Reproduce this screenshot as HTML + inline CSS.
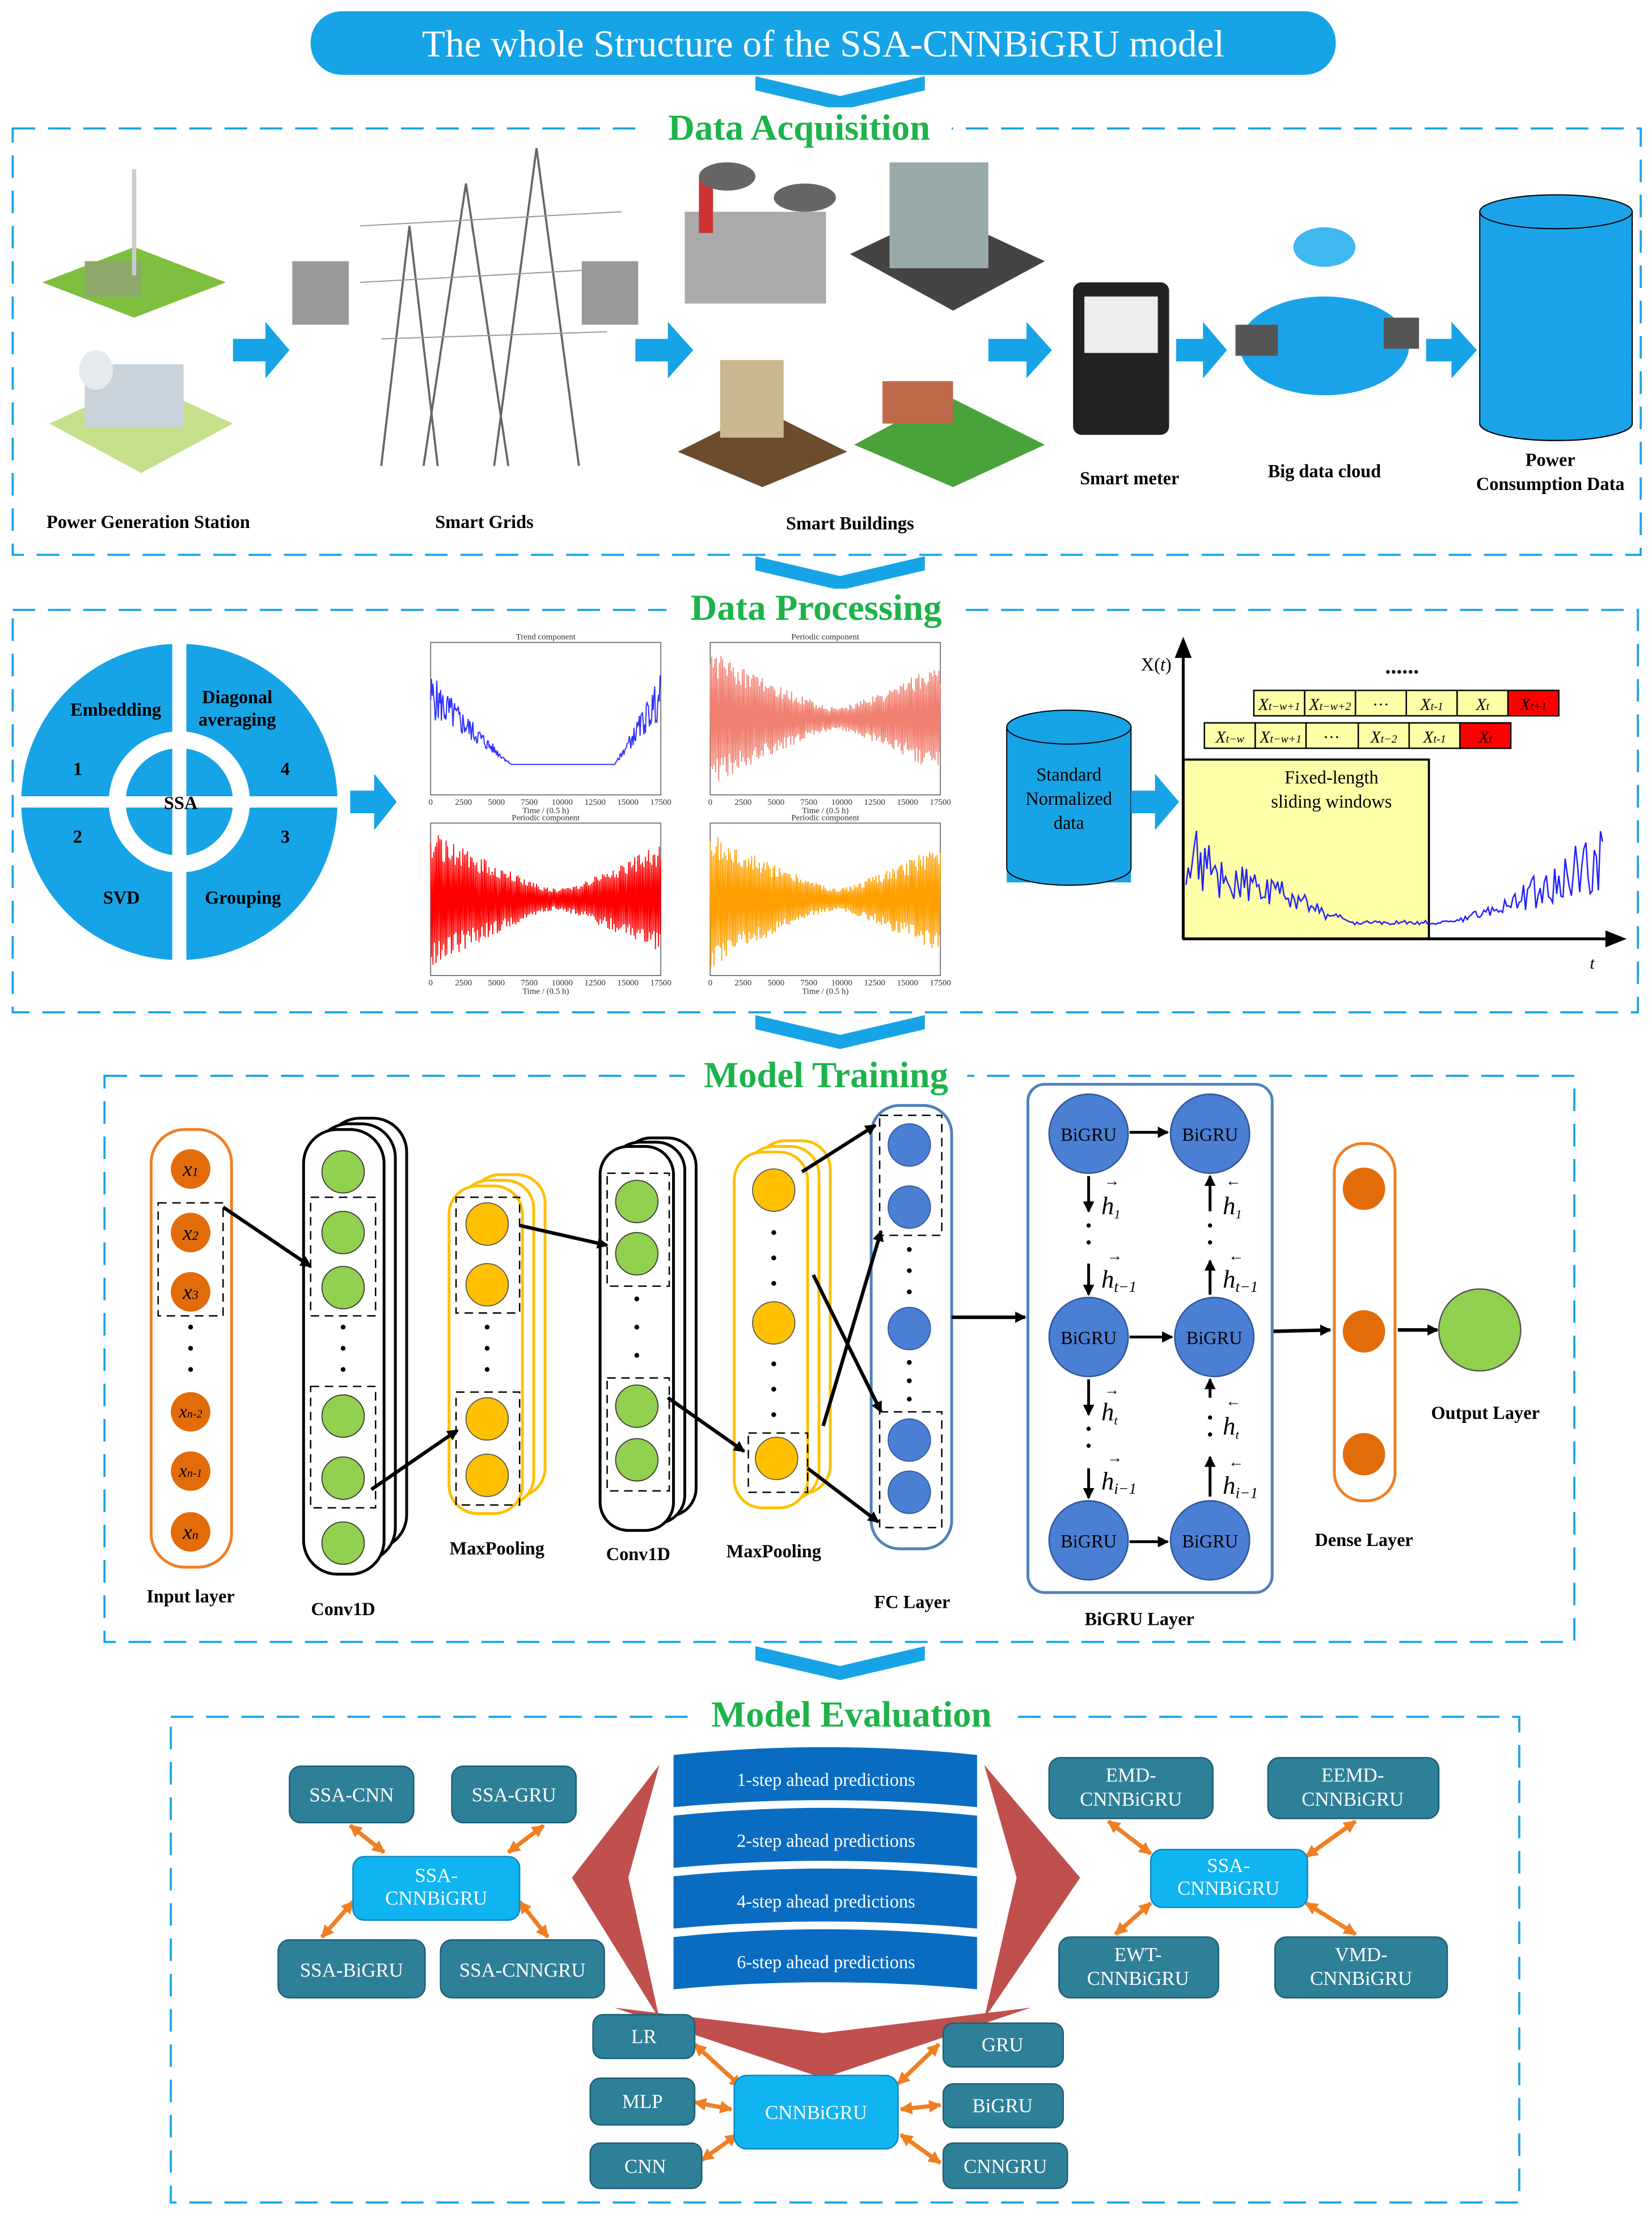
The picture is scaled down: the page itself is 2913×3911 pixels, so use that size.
<!DOCTYPE html>
<html><head><meta charset="utf-8">
<style>
html,body{margin:0;padding:0;background:#fff;}
svg{display:block;}
text{font-family:"Liberation Serif",serif;}
</style></head>
<body>
<svg id="s" xmlns="http://www.w3.org/2000/svg" width="2913" height="3911" viewBox="0 0 1170 1571" preserveAspectRatio="none">
<defs>
<marker id="ab" markerWidth="8" markerHeight="8" refX="7" refY="4" orient="auto" markerUnits="userSpaceOnUse"><path d="M0,0 L8,4 L0,8z" fill="#000"/></marker>
<marker id="ao" markerWidth="9" markerHeight="9" refX="8" refY="4.5" orient="auto-start-reverse" markerUnits="userSpaceOnUse"><path d="M0,0 L9,4.5 L0,9z" fill="#f07f23"/></marker>
</defs>
<rect width="1170" height="1571" fill="#fff"/>
<!-- title -->
<rect x="220" y="8" width="726" height="45" rx="22" fill="#16a4e6"/>
<text x="583" y="40" font-size="27" fill="#fff" text-anchor="middle">The whole Structure of the SSA-CNNBiGRU model</text>
<g id="chev"><path d="M535,54 L595,68 L655,54 L655,64 L595,78 L535,64z" fill="#16a4e6"/></g>
<!-- Data acquisition -->
<rect x="9" y="91" width="1153" height="302" fill="none" stroke="#1aa3e8" stroke-width="1.5" stroke-dasharray="16,9"/>
<rect x="458" y="76" width="216" height="30" fill="#fff"/>
<text x="566" y="99" font-size="26" font-weight="bold" fill="#1db34a" text-anchor="middle">Data Acquisition</text>
<!-- icons rough -->
<g>
<path d="M30,200 L95,175 L160,200 L95,225z" fill="#7fbf3f"/><rect x="60" y="185" width="40" height="25" fill="#8ca86a"/>
<line x1="95" y1="120" x2="95" y2="195" stroke="#ccc" stroke-width="3"/>
<path d="M35,300 L100,270 L165,300 L100,335z" fill="#c5e08a"/><rect x="60" y="258" width="70" height="45" fill="#c9d3dc"/>
<ellipse cx="68" cy="262" rx="12" ry="14" fill="#e6eaee"/>
<rect x="207" y="185" width="40" height="45" fill="#999"/><rect x="412" y="185" width="40" height="45" fill="#999"/>
<path d="M300,330 L330,130 L360,330 M350,330 L380,105 L410,330 M270,330 L290,160 L310,330" fill="none" stroke="#666" stroke-width="1.5"/>
<path d="M255,160 L440,150 M255,200 L440,190 M270,240 L430,235" stroke="#999" stroke-width="0.8" fill="none"/>
<rect x="485" y="150" width="100" height="65" fill="#aaa"/><rect x="495" y="125" width="10" height="40" fill="#c33"/><ellipse cx="515" cy="125" rx="20" ry="10" fill="#666"/><ellipse cx="570" cy="140" rx="22" ry="10" fill="#666"/>
<path d="M602,180 L665,150 L740,185 L675,220z" fill="#444"/><rect x="630" y="115" width="70" height="75" fill="#9aa"/>
<path d="M480,320 L540,290 L600,320 L540,345z" fill="#6b4d2d"/><rect x="510" y="255" width="45" height="55" fill="#cbb890"/>
<path d="M605,315 L670,280 L740,315 L675,345z" fill="#4aa33a"/><rect x="625" y="270" width="50" height="30" fill="#c0684a"/>
<rect x="760" y="200" width="68" height="108" rx="6" fill="#222"/><rect x="768" y="210" width="52" height="40" fill="#eee"/>
<ellipse cx="938" cy="245" rx="60" ry="35" fill="#1aa3e8"/><ellipse cx="938" cy="175" rx="22" ry="14" fill="#3fb8f0"/>
<rect x="875" y="230" width="30" height="22" fill="#555"/><rect x="980" y="225" width="25" height="22" fill="#555"/>
<rect x="1048" y="150" width="108" height="150" fill="#1aa3e8"/>
<ellipse cx="1102" cy="300" rx="54" ry="12" fill="#1aa3e8" stroke="#000" stroke-width="0.8"/>
<rect x="1048" y="150" width="108" height="150" fill="#1aa3e8"/>
<path d="M1048,150 L1048,300 M1156,150 L1156,300" stroke="#000" stroke-width="0.8"/>
<path d="M1048,300 A54,12 0 0 0 1156,300" fill="none" stroke="#000" stroke-width="0.8"/>
<ellipse cx="1102" cy="150" rx="54" ry="12" fill="#1aa3e8" stroke="#000" stroke-width="0.8"/>
</g>
<g fill="#16a4e6" id="arrs">
<path d="M165,240 L188,240 L188,228 L205,248 L188,268 L188,256 L165,256z"/>
<path d="M450,240 L473,240 L473,228 L491,248 L473,268 L473,256 L450,256z"/>
<path d="M700,240 L727,240 L727,228 L745,248 L727,268 L727,256 L700,256z"/>
<path d="M833,240 L852,240 L852,228 L869,248 L852,268 L852,256 L833,256z"/>
<path d="M1010,240 L1028,240 L1028,228 L1046,248 L1028,268 L1028,256 L1010,256z"/>
</g>
<g font-size="13" font-weight="bold" text-anchor="middle">
<text x="105" y="374">Power Generation Station</text>
<text x="343" y="374">Smart Grids</text>
<text x="602" y="375">Smart Buildings</text>
<text x="800" y="343">Smart meter</text>
<text x="938" y="338">Big data cloud</text>
<text x="1098" y="330">Power</text>
<text x="1098" y="347">Consumption Data</text>
</g>
<use href="#chev" y="340"/>
<!-- Data processing -->
<rect x="9" y="432" width="1151" height="285" fill="none" stroke="#1aa3e8" stroke-width="1.5" stroke-dasharray="16,9"/>
<rect x="472" y="417" width="210" height="30" fill="#fff"/>
<text x="578" y="439" font-size="26" font-weight="bold" fill="#1db34a" text-anchor="middle">Data Processing</text>
<circle cx="127" cy="568" r="112" fill="#16a4e6"/>
<circle cx="127" cy="568" r="50" fill="#fff"/>
<circle cx="127" cy="568" r="38" fill="#16a4e6"/>
<rect x="122" y="450" width="10" height="236" fill="#fff"/>
<rect x="12" y="564" width="230" height="8" fill="#fff"/>
<g font-size="13" font-weight="bold" text-anchor="middle">
<text x="82" y="507">Embedding</text><text x="168" y="498">Diagonal</text><text x="168" y="514">averaging</text>
<text x="55" y="549">1</text><text x="202" y="549">4</text><text x="55" y="597">2</text><text x="202" y="597">3</text>
<text x="128" y="573">SSA</text><text x="86" y="640">SVD</text><text x="172" y="640">Grouping</text>
</g>
<path d="M248,560 L265,560 L265,548 L281,568 L265,588 L265,576 L248,576z" fill="#16a4e6"/>
<g id="plots" font-size="6" fill="#333"></g>
<!-- cylinder -->
<rect x="713" y="515" width="88" height="110" fill="#16a4e6"/>
<path d="M713,515 L713,615 A44,12 0 0 0 801,615 L801,515" fill="#16a4e6" stroke="#000" stroke-width="0.8"/>
<ellipse cx="757" cy="515" rx="44" ry="12" fill="#16a4e6" stroke="#000" stroke-width="0.8"/>
<g font-size="13" text-anchor="middle"><text x="757" y="553">Standard</text><text x="757" y="570">Normalized</text><text x="757" y="587">data</text></g>
<path d="M801,560 L818,560 L818,548 L835,568 L818,588 L818,576 L801,576z" fill="#16a4e6"/>
<rect x="838" y="538" width="174" height="127" fill="#ffffa8" stroke="#000" stroke-width="1.5"/>
<line x1="838" y1="665" x2="838" y2="462" stroke="#000" stroke-width="2"/>
<path d="M832,466 L838,451 L844,466z"/>
<line x1="838" y1="665" x2="1140" y2="665" stroke="#000" stroke-width="2"/>
<path d="M1137,659 L1152,665 L1137,671z"/>
<text x="808" y="475" font-size="13">X(<tspan font-style="italic">t</tspan>)</text>
<text x="1126" y="686" font-size="12" font-style="italic">t</text>
<text x="993" y="477" font-size="16" font-weight="bold" text-anchor="middle">......</text>
<g font-size="12" font-family="Liberation Serif" font-style="italic" text-anchor="middle" stroke="#000" stroke-width="1">
<rect x="888" y="489" width="36" height="18" fill="#ffffa8"/><rect x="924" y="489" width="36" height="18" fill="#ffffa8"/><rect x="960" y="489" width="36" height="18" fill="#ffffa8"/><rect x="996" y="489" width="36" height="18" fill="#ffffa8"/><rect x="1032" y="489" width="36" height="18" fill="#ffffa8"/><rect x="1068" y="489" width="36" height="18" fill="#f00"/>
<rect x="853" y="512" width="36" height="18" fill="#ffffa8"/><rect x="889" y="512" width="36" height="18" fill="#ffffa8"/><rect x="925" y="512" width="37" height="18" fill="#ffffa8"/><rect x="962" y="512" width="36" height="18" fill="#ffffa8"/><rect x="998" y="512" width="36" height="18" fill="#ffffa8"/><rect x="1034" y="512" width="36" height="18" fill="#f00"/>
</g>
<g font-size="12" font-style="italic" text-anchor="middle">
<text x="906" y="503">X<tspan font-size="8">t−w+1</tspan></text><text x="942" y="503">X<tspan font-size="8">t−w+2</tspan></text><text x="978" y="503" font-style="normal">···</text><text x="1014" y="503">X<tspan font-size="8">t-1</tspan></text><text x="1050" y="503">X<tspan font-size="8">t</tspan></text><text x="1086" y="503">X<tspan font-size="8">t+1</tspan></text>
<text x="871" y="526">X<tspan font-size="8">t−w</tspan></text><text x="907" y="526">X<tspan font-size="8">t−w+1</tspan></text><text x="943" y="526" font-style="normal">···</text><text x="980" y="526">X<tspan font-size="8">t−2</tspan></text><text x="1016" y="526">X<tspan font-size="8">t-1</tspan></text><text x="1052" y="526">X<tspan font-size="8">t</tspan></text>
</g>
<g font-size="13" text-anchor="middle"><text x="943" y="555">Fixed-length</text><text x="943" y="572">sliding windows</text></g>
<polyline id="bigsig" fill="none" stroke="#2020ff" stroke-width="1"/>
<use href="#chev" y="665"/>
<!-- Model training -->
<rect x="74" y="762" width="1041" height="401" fill="none" stroke="#1aa3e8" stroke-width="1.5" stroke-dasharray="16,9"/>
<rect x="485" y="747" width="200" height="30" fill="#fff"/>
<text x="585" y="770" font-size="26" font-weight="bold" fill="#1db34a" text-anchor="middle">Model Training</text>
<rect x="107" y="800" width="57" height="310" rx="24" fill="#fff" stroke="#f07f23" stroke-width="2"/>
<g fill="#e36c0a"><circle cx="135" cy="828" r="14"/><circle cx="135" cy="873" r="14"/><circle cx="135" cy="915" r="14"/><circle cx="135" cy="1000" r="14"/><circle cx="135" cy="1042" r="14"/><circle cx="135" cy="1085" r="14"/></g>
<g font-size="15" font-style="italic" text-anchor="middle"><text x="135" y="833">x<tspan font-size="9">1</tspan></text><text x="135" y="878">x<tspan font-size="9">2</tspan></text><text x="135" y="920">x<tspan font-size="9">3</tspan></text><text x="135" y="1004" font-size="13">x<tspan font-size="8">n-2</tspan></text><text x="135" y="1046" font-size="13">x<tspan font-size="8">n-1</tspan></text><text x="135" y="1090">x<tspan font-size="9">n</tspan></text></g>
<rect x="112" y="852" width="46" height="80" fill="none" stroke="#000" stroke-dasharray="6,4"/>
<!-- conv1 -->
<rect x="231" y="792" width="57" height="305" rx="24" fill="#fff" stroke="#000" stroke-width="2"/>
<rect x="223" y="796" width="57" height="310" rx="24" fill="#fff" stroke="#000" stroke-width="2"/>
<rect x="215" y="800" width="57" height="315" rx="24" fill="#fff" stroke="#000" stroke-width="2"/>
<g fill="#92d050" stroke="#333" stroke-width="0.7"><circle cx="243" cy="830" r="15"/><circle cx="243" cy="873" r="15"/><circle cx="243" cy="912" r="15"/><circle cx="243" cy="1003" r="15"/><circle cx="243" cy="1047" r="15"/><circle cx="243" cy="1093" r="15"/></g>
<rect x="220" y="848" width="46" height="84" fill="none" stroke="#000" stroke-dasharray="6,4"/>
<rect x="220" y="982" width="46" height="86" fill="none" stroke="#000" stroke-dasharray="6,4"/>
<!-- maxpool1 -->
<rect x="334" y="832" width="52" height="228" rx="20" fill="#fff" stroke="#ffc000" stroke-width="2"/>
<rect x="326" y="836" width="52" height="230" rx="20" fill="#fff" stroke="#ffc000" stroke-width="2"/>
<rect x="318" y="840" width="52" height="232" rx="20" fill="#fff" stroke="#ffc000" stroke-width="2"/>
<g fill="#ffc000" stroke="#555" stroke-width="0.7"><circle cx="345" cy="867" r="15"/><circle cx="345" cy="910" r="15"/><circle cx="345" cy="1005" r="15"/><circle cx="345" cy="1045" r="15"/></g>
<rect x="323" y="848" width="45" height="82" fill="none" stroke="#000" stroke-dasharray="6,4"/>
<rect x="323" y="986" width="45" height="80" fill="none" stroke="#000" stroke-dasharray="6,4"/>
<!-- conv2 -->
<rect x="441" y="806" width="52" height="268" rx="20" fill="#fff" stroke="#000" stroke-width="2"/>
<rect x="433" y="809" width="52" height="270" rx="20" fill="#fff" stroke="#000" stroke-width="2"/>
<rect x="425" y="812" width="52" height="272" rx="20" fill="#fff" stroke="#000" stroke-width="2"/>
<g fill="#92d050" stroke="#333" stroke-width="0.7"><circle cx="451" cy="851" r="15"/><circle cx="451" cy="888" r="15"/><circle cx="451" cy="996" r="15"/><circle cx="451" cy="1034" r="15"/></g>
<rect x="430" y="831" width="44" height="80" fill="none" stroke="#000" stroke-dasharray="6,4"/>
<rect x="430" y="976" width="44" height="80" fill="none" stroke="#000" stroke-dasharray="6,4"/>
<!-- maxpool2 -->
<rect x="536" y="808" width="52" height="250" rx="20" fill="#fff" stroke="#ffc000" stroke-width="2"/>
<rect x="528" y="812" width="52" height="250" rx="20" fill="#fff" stroke="#ffc000" stroke-width="2"/>
<rect x="520" y="816" width="52" height="252" rx="20" fill="#fff" stroke="#ffc000" stroke-width="2"/>
<g fill="#ffc000" stroke="#555" stroke-width="0.7"><circle cx="548" cy="843" r="15"/><circle cx="548" cy="937" r="15"/><circle cx="550" cy="1033" r="15"/></g>
<rect x="530" y="1015" width="42" height="42" fill="none" stroke="#000" stroke-dasharray="6,4"/>
<!-- FC -->
<rect x="617" y="783" width="57" height="314" rx="20" fill="#fff" stroke="#4f81bd" stroke-width="2"/>
<g fill="#4a7fd4" stroke="#2f5597" stroke-width="0.7"><circle cx="644" cy="811" r="15"/><circle cx="644" cy="855" r="15"/><circle cx="644" cy="941" r="15"/><circle cx="644" cy="1020" r="15"/><circle cx="644" cy="1057" r="15"/></g>
<rect x="623" y="790" width="44" height="85" fill="none" stroke="#000" stroke-dasharray="6,4"/>
<rect x="623" y="1000" width="44" height="82" fill="none" stroke="#000" stroke-dasharray="6,4"/>
<!-- dots -->
<g fill="#000">
<circle cx="135" cy="940" r="1.7"/><circle cx="135" cy="955" r="1.7"/><circle cx="135" cy="970" r="1.7"/>
<circle cx="243" cy="940" r="1.7"/><circle cx="243" cy="955" r="1.7"/><circle cx="243" cy="970" r="1.7"/>
<circle cx="345" cy="940" r="1.7"/><circle cx="345" cy="955" r="1.7"/><circle cx="345" cy="970" r="1.7"/>
<circle cx="451" cy="920" r="1.7"/><circle cx="451" cy="940" r="1.7"/><circle cx="451" cy="960" r="1.7"/>
<circle cx="548" cy="873" r="1.7"/><circle cx="548" cy="891" r="1.7"/><circle cx="548" cy="909" r="1.7"/>
<circle cx="548" cy="966" r="1.7"/><circle cx="548" cy="984" r="1.7"/><circle cx="548" cy="1002" r="1.7"/>
<circle cx="644" cy="885" r="1.7"/><circle cx="644" cy="900" r="1.7"/><circle cx="644" cy="915" r="1.7"/>
<circle cx="644" cy="965" r="1.7"/><circle cx="644" cy="978" r="1.7"/><circle cx="644" cy="991" r="1.7"/>
<circle cx="966" cy="880" r="1.7"/><circle cx="966" cy="895" r="1.7"/><circle cx="966" cy="910" r="1.7"/>
<circle cx="966" cy="970" r="1.7"/><circle cx="966" cy="985" r="1.7"/><circle cx="966" cy="1000" r="1.7"/>
</g>
<g stroke="#000" stroke-width="2.5" fill="none" marker-end="url(#ab)">
<line x1="158" y1="855" x2="220" y2="897"/>
<line x1="263" y1="1055" x2="324" y2="1013"/>
<line x1="368" y1="868" x2="430" y2="882"/>
<line x1="473" y1="990" x2="527" y2="1028"/>
<line x1="568" y1="830" x2="620" y2="797"/>
<line x1="576" y1="903" x2="624" y2="1000"/>
<line x1="583" y1="1010" x2="624" y2="872"/>
<line x1="572" y1="1040" x2="622" y2="1078"/>
<line x1="674" y1="933" x2="726" y2="933"/>
<line x1="901" y1="943" x2="942" y2="942"/>
<line x1="990" y1="942" x2="1018" y2="942"/>
</g>
<!-- BiGRU -->
<rect x="728" y="768" width="173" height="360" rx="12" fill="#fff" stroke="#4f81bd" stroke-width="2"/>
<g fill="#4a7fd4" stroke="#2f5597"><circle cx="771" cy="803" r="28"/><circle cx="857" cy="803" r="28"/><circle cx="771" cy="947" r="28"/><circle cx="860" cy="947" r="28"/><circle cx="771" cy="1091" r="28"/><circle cx="857" cy="1091" r="28"/></g>
<g font-size="13" text-anchor="middle"><text x="771" y="808">BiGRU</text><text x="857" y="808">BiGRU</text><text x="771" y="952">BiGRU</text><text x="860" y="952">BiGRU</text><text x="771" y="1096">BiGRU</text><text x="857" y="1096">BiGRU</text></g>
<g stroke="#000" stroke-width="2" fill="none" marker-end="url(#ab)">
<line x1="800" y1="802" x2="827" y2="802"/><line x1="800" y1="947" x2="830" y2="947"/><line x1="800" y1="1092" x2="827" y2="1092"/>
<line x1="771" y1="833" x2="771" y2="858"/><line x1="771" y1="895" x2="771" y2="917"/>
<line x1="771" y1="977" x2="771" y2="1002"/><line x1="771" y1="1040" x2="771" y2="1061"/>
<line x1="857" y1="1060" x2="857" y2="1032"/><line x1="857" y1="990" x2="857" y2="977"/>
<line x1="857" y1="917" x2="857" y2="893"/><line x1="857" y1="858" x2="857" y2="833"/>
</g>
<g fill="#000"><circle cx="771" cy="868" r="1.5"/><circle cx="771" cy="880" r="1.5"/><circle cx="857" cy="868" r="1.5"/><circle cx="857" cy="880" r="1.5"/><circle cx="771" cy="1012" r="1.5"/><circle cx="771" cy="1024" r="1.5"/><circle cx="857" cy="1004" r="1.5"/><circle cx="857" cy="1016" r="1.5"/></g>
<g font-size="18" font-style="italic"><text x="780" y="860">h<tspan font-size="9" dy="3">1</tspan></text><text x="866" y="860">h<tspan font-size="9" dy="3">1</tspan></text>
<text x="780" y="912">h<tspan font-size="11" dy="3">t−1</tspan></text><text x="866" y="912">h<tspan font-size="11" dy="3">t−1</tspan></text>
<text x="780" y="1006">h<tspan font-size="9" dy="3">t</tspan></text><text x="866" y="1016">h<tspan font-size="9" dy="3">t</tspan></text>
<text x="780" y="1055">h<tspan font-size="11" dy="3">i−1</tspan></text><text x="866" y="1058">h<tspan font-size="11" dy="3">i−1</tspan></text></g>
<g font-size="11"><text x="782" y="840">→</text><text x="868" y="840">←</text><text x="784" y="893">→</text><text x="870" y="893">←</text><text x="782" y="988">→</text><text x="868" y="996">←</text><text x="784" y="1036">→</text><text x="870" y="1039">←</text></g>
<!-- dense -->
<rect x="945" y="810" width="43" height="253" rx="20" fill="#fff" stroke="#f07f23" stroke-width="2"/>
<g fill="#e36c0a"><circle cx="966" cy="842" r="15"/><circle cx="966" cy="943" r="15"/><circle cx="966" cy="1030" r="15"/></g>
<circle cx="1048" cy="942" r="29" fill="#92d050" stroke="#555"/>
<g font-size="13" font-weight="bold" text-anchor="middle">
<text x="135" y="1135">Input  layer</text><text x="243" y="1144">Conv1D</text><text x="352" y="1101">MaxPooling</text><text x="452" y="1105">Conv1D</text><text x="548" y="1103">MaxPooling</text><text x="646" y="1139">FC Layer</text><text x="807" y="1151">BiGRU Layer</text><text x="966" y="1095">Dense Layer</text><text x="1052" y="1005">Output Layer</text>
</g>
<use href="#chev" y="1112"/>
<!-- Model evaluation -->
<rect x="121" y="1216" width="955" height="344" fill="none" stroke="#1aa3e8" stroke-width="1.5" stroke-dasharray="16,9"/>
<rect x="490" y="1200" width="228" height="30" fill="#fff"/>
<text x="603" y="1223" font-size="26" font-weight="bold" fill="#1db34a" text-anchor="middle">Model Evaluation</text>
<g fill="#c0504d">
<path d="M467,1250 L405,1330 L467,1430 L445,1330z"/>
<path d="M697,1250 L765,1330 L697,1430 L720,1330z"/>
<path d="M435,1422 L583,1472 L730,1422 L583,1440z"/>
</g>
<g fill="#0a6cc0">
<path d="M477,1243 Q585,1232 692,1243 L692,1280 Q585,1270 477,1280z"/>
<path d="M477,1286 Q585,1275 692,1286 L692,1323 Q585,1313 477,1323z"/>
<path d="M477,1329 Q585,1318 692,1329 L692,1366 Q585,1356 477,1366z"/>
<path d="M477,1372 Q585,1361 692,1372 L692,1409 Q585,1399 477,1409z"/>
</g>
<g font-size="13" fill="#fff" text-anchor="middle"><text x="585" y="1265">1-step ahead  predictions</text><text x="585" y="1308">2-step ahead  predictions</text><text x="585" y="1351">4-step ahead  predictions</text><text x="585" y="1394">6-step ahead  predictions</text></g>
<g stroke="#f07f23" stroke-width="3" marker-end="url(#ao)" marker-start="url(#ao)">
<line x1="248" y1="1293" x2="272" y2="1312"/><line x1="385" y1="1293" x2="360" y2="1312"/>
<line x1="250" y1="1347" x2="228" y2="1372"/><line x1="368" y1="1347" x2="388" y2="1372"/>
<line x1="785" y1="1290" x2="815" y2="1313"/><line x1="960" y1="1290" x2="925" y2="1315"/>
<line x1="815" y1="1348" x2="790" y2="1370"/><line x1="925" y1="1348" x2="960" y2="1370"/>
<line x1="492" y1="1448" x2="525" y2="1478"/><line x1="492" y1="1489" x2="518" y2="1494"/><line x1="497" y1="1530" x2="522" y2="1512"/>
<line x1="665" y1="1448" x2="636" y2="1476"/><line x1="666" y1="1491" x2="638" y2="1494"/><line x1="666" y1="1532" x2="638" y2="1512"/>
</g>
<g fill="#2e7f98" stroke="#1d5f73">
<rect x="205" y="1251" width="88" height="40" rx="8"/><rect x="320" y="1251" width="88" height="40" rx="8"/>
<rect x="197" y="1374" width="104" height="41" rx="8"/><rect x="312" y="1374" width="116" height="41" rx="8"/>
<rect x="743" y="1245" width="116" height="43" rx="8"/><rect x="898" y="1245" width="121" height="43" rx="8"/>
<rect x="750" y="1372" width="113" height="43" rx="8"/><rect x="903" y="1372" width="122" height="43" rx="8"/>
<rect x="420" y="1427" width="72" height="31" rx="7"/><rect x="418" y="1472" width="74" height="33" rx="7"/><rect x="418" y="1518" width="79" height="32" rx="7"/>
<rect x="668" y="1433" width="85" height="31" rx="7"/><rect x="668" y="1476" width="85" height="31" rx="7"/><rect x="668" y="1518" width="88" height="32" rx="7"/>
</g>
<g fill="#10b4f0" stroke="#0a88c0">
<rect x="250" y="1315" width="118" height="45" rx="8"/><rect x="815" y="1310" width="111" height="41" rx="8"/><rect x="520" y="1470" width="116" height="52" rx="9"/>
</g>
<g font-size="14" fill="#fff" text-anchor="middle">
<text x="249" y="1276">SSA-CNN</text><text x="364" y="1276">SSA-GRU</text><text x="249" y="1400">SSA-BiGRU</text><text x="370" y="1400">SSA-CNNGRU</text>
<text x="309" y="1333">SSA-</text><text x="309" y="1349">CNNBiGRU</text>
<text x="801" y="1262">EMD-</text><text x="801" y="1279">CNNBiGRU</text><text x="958" y="1262">EEMD-</text><text x="958" y="1279">CNNBiGRU</text>
<text x="870" y="1326">SSA-</text><text x="870" y="1342">CNNBiGRU</text>
<text x="806" y="1389">EWT-</text><text x="806" y="1406">CNNBiGRU</text><text x="964" y="1389">VMD-</text><text x="964" y="1406">CNNBiGRU</text>
<text x="456" y="1447">LR</text><text x="455" y="1493">MLP</text><text x="457" y="1539">CNN</text>
<text x="578" y="1501">CNNBiGRU</text>
<text x="710" y="1453">GRU</text><text x="710" y="1496">BiGRU</text><text x="712" y="1539">CNNGRU</text>
</g>
</svg>
<script>
(function(){
var NS="http://www.w3.org/2000/svg",g=document.getElementById("plots");
function rnd(s){return function(){s=(s*9301+49297)%233280;return s/233280;};}
function el(n,a){var e=document.createElementNS(NS,n);for(var k in a)e.setAttribute(k,a[k]);return e;}
var P=[[305,455,"Trend component","#3030ff",0],[503,455,"Periodic component","#f08070",1],[305,583,"Periodic component","#ff0000",1],[503,583,"Periodic component","#ffa000",1]];
P.forEach(function(p,i){
 var x=p[0],y=p[1],w=163,h=108,r=rnd(i*77+5);
 g.appendChild(el("rect",{x:x,y:y,width:w,height:h,fill:"#fff",stroke:"#555","stroke-width":0.6}));
 var t=el("text",{x:x+w/2,y:y-2,"text-anchor":"middle"});t.textContent=p[2];g.appendChild(t);
 var t2=el("text",{x:x+w/2,y:y+h+13,"text-anchor":"middle"});t2.textContent="Time / (0.5 h)";g.appendChild(t2);
 var ticks=["0","2500","5000","7500","10000","12500","15000","17500"];
 ticks.forEach(function(s,k){var tt=el("text",{x:x+k*w/7,y:y+h+7,"text-anchor":"middle"});tt.textContent=s;g.appendChild(tt);});
 var pts=[];
 for(var k=0;k<=300;k++){var f=k/300,xx=x+f*w,yy;
  if(p[4]==0){var env=f<0.35?(1-f/0.35):(f>0.8?(f-0.8)/0.2:0);yy=y+h*0.8-env*h*0.6*(0.5+0.5*r());}
  else{var env2=0.15+0.85*Math.pow(Math.abs(f-0.55)/0.55,1.2);var a=env2*h*0.45*(0.6+0.4*r());yy=y+h/2+(k%2?a:-a);}
  pts.push(xx.toFixed(1)+","+yy.toFixed(1));}
 g.appendChild(el("polyline",{points:pts.join(" "),fill:"none",stroke:p[3],"stroke-width":p[4]?0.7:0.8}));
});
var r=rnd(123),pts=[];
for(var k=0;k<=200;k++){var f=k/200,xx=840+f*295,env=f<0.4?(1-f/0.4):(f>0.6?Math.pow((f-0.6)/0.4,1.5):0);
 var yy=660-5-env*70*(0.3+0.7*r())-3*r();pts.push(xx.toFixed(1)+","+yy.toFixed(1));}
document.getElementById("bigsig").setAttribute("points",pts.join(" "));
})();
</script>
</body></html>
